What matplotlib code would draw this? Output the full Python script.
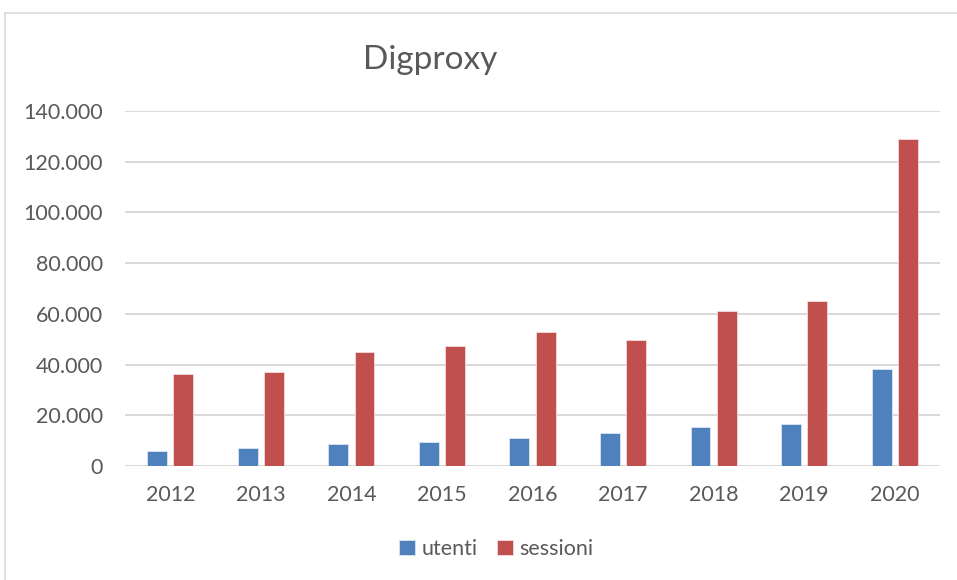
import matplotlib
matplotlib.use("Agg")
import matplotlib.pyplot as plt
import numpy as np
from matplotlib.patches import Rectangle
from matplotlib.ticker import FuncFormatter

years = ["2012", "2013", "2014", "2015", "2016", "2017", "2018", "2019", "2020"]
utenti = [6000, 7150, 8750, 9400, 11000, 12900, 15300, 16500, 38250]
sessioni = [36200, 36900, 44800, 47200, 53000, 49850, 61050, 65000, 129000]
yticks = [0, 20000, 40000, 60000, 80000, 100000, 120000, 140000]

plt.rcParams['font.family'] = ['Lato', 'DejaVu Sans']
fig = plt.figure(figsize=(9.57, 5.8), dpi=100)
ax = fig.add_axes([125/957, (580-466)/580, (940-125)/957, (466-111)/580])

x = np.arange(len(years))
w = 0.22
off = 0.145
ax.bar(x - off, utenti, w, color="#4f81bd", edgecolor="#dbe5f1", linewidth=0.6, label="utenti", zorder=3)
ax.bar(x + off, sessioni, w, color="#c0504d", edgecolor="#f2dcdb", linewidth=0.6, label="sessioni", zorder=3)

ax.set_xlim(-0.5, len(years) - 0.5)
ax.set_ylim(0, 140000)
ax.set_yticks(yticks)
ax.yaxis.set_major_formatter(FuncFormatter(lambda v, p: f"{int(v):,}".replace(",", ".")))
ax.set_xticks(x)
ax.set_xticklabels(years)
ax.grid(axis="y", color="#d9d9d9", linewidth=1.4, zorder=0)
for s in ax.spines.values():
    s.set_visible(False)
ax.tick_params(axis="both", length=0, labelsize=15.5, colors="#595959")
ax.tick_params(axis="y", pad=16)
ax.tick_params(axis="x", pad=14)

fig.text(430/957, 1 - 60/580, "Digproxy", ha="center", va="center", fontsize=24, color="#595959")

leg = fig.legend(loc="center", bbox_to_anchor=(496/957, 1 - 549/580), ncol=2, frameon=False,
                 fontsize=15.5, handlelength=0.75, handleheight=0.75, columnspacing=0.9, handletextpad=0.3)
for t in leg.get_texts():
    t.set_color("#595959")

fig.patches.append(Rectangle((5/957, -0.1), 1.2, 1 - 13/580 + 0.1, transform=fig.transFigure,
                             fill=False, edgecolor="#d9d9d9", linewidth=1.2))

fig.savefig("out.png", dpi=100)
